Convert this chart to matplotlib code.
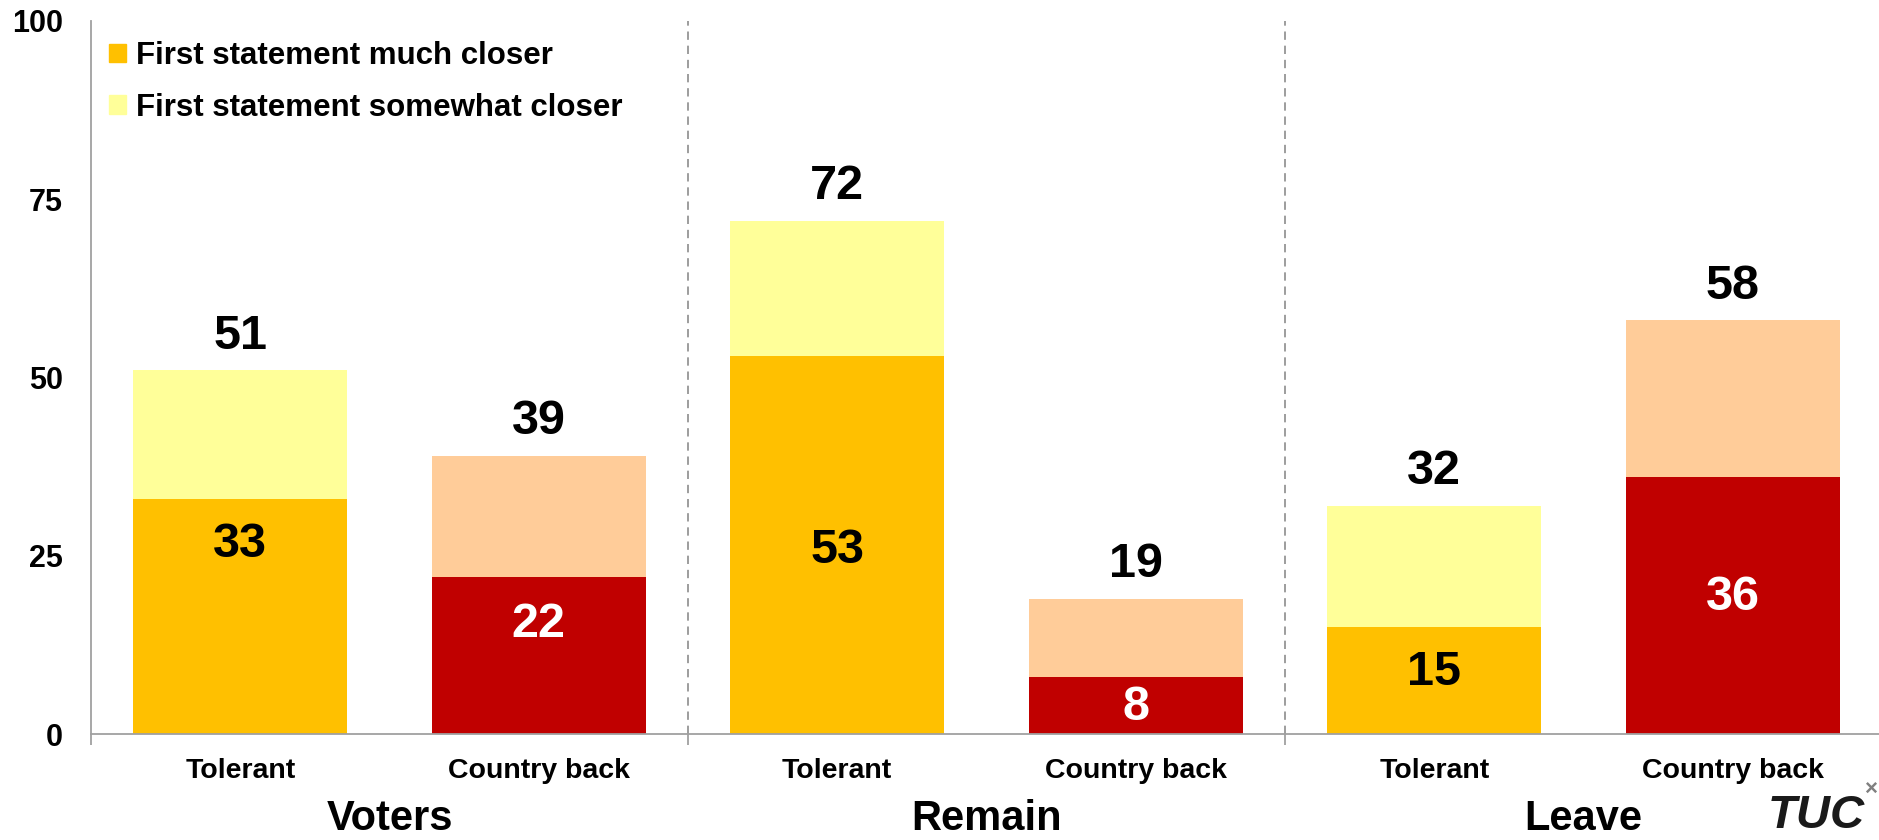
import matplotlib.pyplot as plt
from matplotlib.patches import Patch

plt.rcParams['font.family'] = ['Liberation Sans', 'DejaVu Sans']
plt.rcParams['font.weight'] = 'bold'

# Data
categories = ['Tolerant', 'Country back', 'Tolerant', 'Country back', 'Tolerant', 'Country back']
groups = ['Voters', 'Remain', 'Leave']
much_closer = [33, 22, 53, 8, 15, 36]
total = [51, 39, 72, 19, 32, 58]
somewhat_closer = [t - m for t, m in zip(total, much_closer)]
# where Excel put the inner labels (data units)
inner_label_y = [26.6, 15.3, 25.7, 3.7, 8.6, 19.1]

much_colors = ['#FFC000', '#C00000'] * 3
some_colors = ['#FFFF99', '#FFCC99'] * 3
inner_text_colors = ['black', 'white'] * 3

fig = plt.figure(figsize=(18.79, 8.40), dpi=100)
ax = fig.add_axes([91 / 1879, 1 - 734 / 840, (1882 - 91) / 1879, 713 / 840])

x = list(range(len(categories)))
ax.bar(x, much_closer, width=0.717, color=much_colors)
ax.bar(x, somewhat_closer, bottom=much_closer, width=0.717, color=some_colors)

for i in x:
    ax.text(i, total[i] + 4.8, str(total[i]), ha='center', va='center',
            fontsize=35, fontweight='bold', color='black')
    ax.text(i, inner_label_y[i], str(much_closer[i]), ha='center', va='center',
            fontsize=35, fontweight='bold', color=inner_text_colors[i])

ax.set_xlim(-0.5, 5.5)
ax.set_ylim(0, 100)
ax.set_yticks([0, 25, 50, 75, 100])
ax.tick_params(axis='y', length=0, pad=20, labelsize=22)
for lab in ax.get_yticklabels():
    lab.set_fontweight('bold')

# category labels as major ticks, group boundaries as minor ticks
ax.set_xticks(x)
ax.set_xticklabels(categories, fontsize=20.5, fontweight='bold')
ax.tick_params(axis='x', which='major', length=0, pad=17)
ax.set_xticks([-0.5, 1.5, 3.5, 5.5], minor=True)
ax.tick_params(axis='x', which='minor', length=8, color='#A0A0A0', width=1.3)

for gi, g in enumerate(groups):
    ax.text(gi * 2 + 0.5, -0.135, g, transform=ax.get_xaxis_transform(),
            ha='center', va='baseline', fontsize=30, fontweight='bold')

for xd in [1.5, 3.5]:
    ax.axvline(xd, ymin=0, ymax=1, color='#8C8C8C', lw=1.2,
               linestyle=(0, (5, 3.5)), clip_on=False)

for s in ['top', 'right']:
    ax.spines[s].set_visible(False)
ax.spines['left'].set_color('#A0A0A0')
ax.spines['bottom'].set_color('#A0A0A0')
ax.spines['left'].set_linewidth(1.3)
ax.spines['bottom'].set_linewidth(1.3)

handles = [Patch(color='#FFC000', label='First statement much closer'),
           Patch(color='#FFFF99', label='First statement somewhat closer')]
fig.legend(handles=handles, loc='upper left', bbox_to_anchor=(109 / 1879, 1 - 41 / 840),
           frameon=False, prop={'weight': 'bold', 'size': 22.5},
           handlelength=0.55, handleheight=0.55, handletextpad=0.3,
           labelspacing=0.7, borderpad=0, borderaxespad=0)

# TUC logo
fig.text(1768 / 1879, 0.002, 'TUC', fontsize=34, fontweight='bold', style='italic',
         ha='left', va='bottom', color='#1a1a1a')
fig.text(1871 / 1879, 1 - 789 / 840, '\u00d7', fontsize=16, color='#808080',
         ha='center', va='center')

fig.savefig('out.png', dpi=100)
